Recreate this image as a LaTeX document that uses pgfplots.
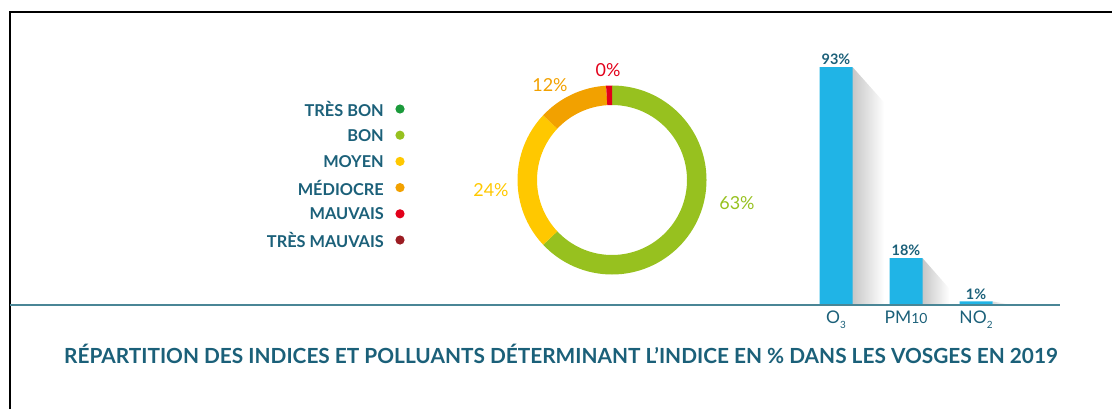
\documentclass[border=0pt]{standalone}
\usepackage{pgfplots}
\pgfplotsset{compat=1.18}
\usepackage{fontspec}
\setmainfont{Lato}
\definecolor{txt}{HTML}{1B6079}
\definecolor{baseln}{HTML}{4A8696}
\definecolor{barblue}{HTML}{20B4E6}
\definecolor{cTB}{HTML}{1B9A3B}
\definecolor{cB}{HTML}{97C11F}
\definecolor{cMoy}{HTML}{FFC800}
\definecolor{cMed}{HTML}{F2A100}
\definecolor{cMau}{HTML}{E2001A}
\definecolor{cTM}{HTML}{9B1C22}
% donut data (percent)
\def\vBon{63}\def\vMoy{24}\def\vMed{12}\def\vMau{1}
\pgfmathsetmacro\aA{90}
\pgfmathsetmacro\aB{\aA-3.6*\vBon}
\pgfmathsetmacro\aC{\aB-3.6*\vMoy}
\pgfmathsetmacro\aD{\aC-3.6*\vMed}
\pgfmathsetmacro\aE{\aD-3.6*\vMau}
\newcommand\seg[3]{%
  \fill[#3] (axis cs:{94.5*cos(#1)},{94.5*sin(#1)}) arc[start angle=#1, end angle=#2, radius=94.5bp]
    -- (axis cs:{75*cos(#2)},{75*sin(#2)}) arc[start angle=#2, end angle=#1, radius=75bp] -- cycle;}
\begin{document}
\begin{tikzpicture}[x=1bp,y=1bp]
\path[use as bounding box] (0,0) rectangle (1112,409);
\draw[line width=2bp,black] (10,0) -- (10,397) -- (1112,397);
% legend
\foreach \lab/\col [count=\i from 0] in {TRÈS BON/cTB,BON/cB,MOYEN/cMoy,MÉDIOCRE/cMed,MAUVAIS/cMau,TRÈS MAUVAIS/cTM}{
  \node[anchor=east,inner sep=0pt,text=txt,font=\fontsize{16.4}{18}\selectfont\bfseries] at (384,{300-26.2*\i}) {\lab};
  \fill[\col] (400,{300-26.2*\i}) circle (4.6);
}
% donut
\begin{axis}[at={(612bp,229bp)},anchor=center,scale only axis,width=190bp,height=190bp,
  xmin=-95,xmax=95,ymin=-95,ymax=95,hide axis,clip=false]
  \seg{\aA}{\aB}{cB}
  \seg{\aB}{\aC}{cMoy}
  \seg{\aC}{\aD}{cMed}
  \seg{\aD}{\aE}{cMau}
  \node[text=cMau,font=\fontsize{18}{20}\selectfont] at (axis cs:-4,110) {0\%};
  \node[text=cMed,font=\fontsize{18}{20}\selectfont] at (axis cs:-62,95) {12\%};
  \node[text=cMoy,font=\fontsize{18}{20}\selectfont] at (axis cs:-121,-10) {24\%};
  \node[text=cB,font=\fontsize{18}{20}\selectfont] at (axis cs:125,-23) {63\%};
\end{axis}
% bars
\begin{axis}[at={(801bp,105bp)},anchor=south west,scale only axis,width=210bp,height=254.8bp,
  xmin=-0.5,xmax=2.5,ymin=0,ymax=100,clip=false,
  ybar,bar width=33bp,
  axis y line=none,axis x line*=bottom,x axis line style={draw=none},
  xtick={0,1,2},xticklabels={O\raisebox{-0.55ex}{\fontsize{10}{10}\selectfont 3},PM{\fontsize{14}{14}\selectfont 10},NO\raisebox{-0.55ex}{\fontsize{10}{10}\selectfont 2}},
  major tick length=0pt,
  /pgf/number format/assume math mode=true,
  xticklabel style={text=txt,font=\fontsize{17.5}{17.5}\selectfont,yshift=-3bp},
  nodes near coords={\pgfmathprintnumber{\pgfplotspointmeta}\%},
  every node near coord/.append style={text=txt,font=\fontsize{14.5}{15}\selectfont\bfseries,inner sep=2bp},
  ]
  \path[draw=none,left color=black!22,right color=white] (axis cs:0.236,93) -- (axis cs:0.69,79) -- (axis cs:0.69,0) -- (axis cs:0.236,0) -- cycle;
  \path[draw=none,left color=black!22,right color=white] (axis cs:1.236,18) -- (axis cs:1.62,6) -- (axis cs:1.62,0) -- (axis cs:1.236,0) -- cycle;
  \path[draw=none,left color=black!15,right color=white] (axis cs:2.236,1) -- (axis cs:2.45,0) -- (axis cs:2.236,0) -- cycle;
  \addplot[fill=barblue,draw=none] coordinates {(0,93) (1,18) (2,1)};
\end{axis}
\draw[line width=2bp,baseln] (10,104) -- (1060,104);
% title
\node[text=txt,font=\fontsize{20.9}{22}\selectfont\bfseries] at (561,55) {RÉPARTITION DES INDICES ET POLLUANTS DÉTERMINANT L’INDICE EN \% DANS LES VOSGES EN 2019};
\end{tikzpicture}
\end{document}
